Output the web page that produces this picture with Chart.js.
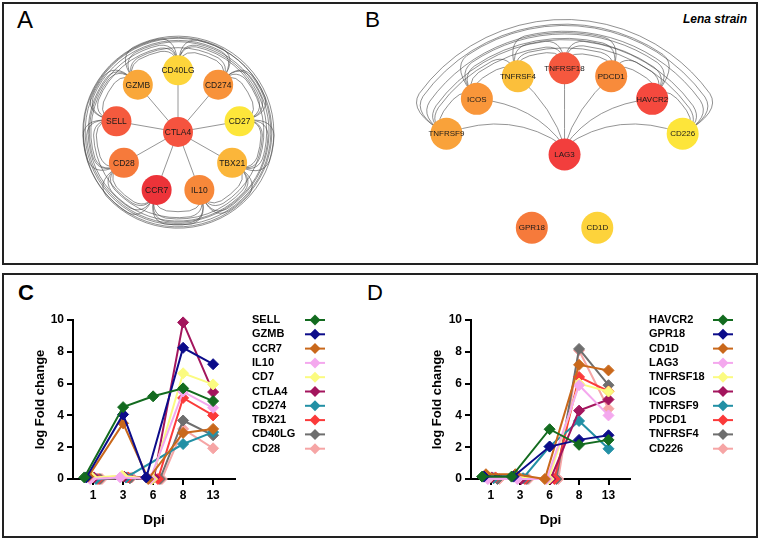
<!DOCTYPE html>
<html lang="en">
<head>
<meta charset="UTF-8" />
<title>Gene networks and fold change</title>
<script src="https://cdn.jsdelivr.net/npm/chart.js"></script>
<style>
  body { margin: 0; background: #fff; font-family: "Liberation Sans", Arial, sans-serif; overflow: hidden; }
  #fig { position: relative; width: 760px; height: 541px; }
  .box { position: absolute; border: 2px solid #222; box-sizing: border-box; }
  .lbl { position: absolute; color: #000; white-space: nowrap; }
  canvas { position: absolute; }
</style>
</head>
<body>
<div id="fig">
  <div class="box" style="left:2px;top:2px;width:756px;height:263px"></div>
  <div class="box" style="left:2px;top:273px;width:756px;height:265px"></div>

  <div class="lbl" style="left:17px;top:8px;font-size:24px;line-height:24px">A</div>
  <div class="lbl" style="left:365px;top:9px;font-size:22.5px;line-height:22.5px">B</div>
  <div class="lbl" style="right:13px;top:11px;font-size:12px;line-height:16px;font-weight:bold;font-style:italic">Lena strain</div>
  <div class="lbl" style="left:18px;top:282px;font-size:22px;line-height:22px;font-weight:bold">C</div>
  <div class="lbl" style="left:367px;top:282px;font-size:22px;line-height:22px">D</div>

  <canvas id="netA" width="280" height="252" style="left:38px;top:6px"></canvas>
  <canvas id="netB" width="370" height="257" style="left:380px;top:5px"></canvas>
  <canvas id="lineC" width="380" height="258" style="left:0px;top:276px"></canvas>
  <canvas id="lineD" width="378" height="258" style="left:380px;top:276px"></canvas>
</div>

<script>
  Chart.defaults.font.family = '"Liberation Sans", Arial, sans-serif';
  Chart.defaults.color = '#000';

  // ---- network A : CTLA4 hub, ring clockwise from top ----
  const hubA = 'CTLA4';
  const ringA = ['CD40LG', 'CD274', 'CD27', 'TBX21', 'IL10', 'CCR7', 'CD28', 'SELL', 'GZMB'];
  const ringStepA = 40;   // degrees between ring slots
  const ringStartA = 0;

  // ---- network B : ring arc + LAG3 hub + two unlinked genes ----
  const ringB = ['TNFRSF9', 'ICOS', 'TNFRSF4', 'TNFRSF18', 'PDCD1', 'HAVCR2', 'CD226'];
  const ringStepB = 20;
  const ringStartB = -60;
  const hubB = ['LAG3', 0, 0.34];            // name, layout x, layout y
  const loneB = [['GPR18', -0.24, -0.22], ['CD1D', 0.24, -0.22]];

  // node fill colours (heat)
  const nodeColor = {
    CTLA4: '#f5533f', CD40LG: '#fdd53b', CD274: '#f8923a', CD27: '#fde63a', TBX21: '#fbb63a',
    IL10: '#f7883a', CCR7: '#ec3339', CD28: '#f67a3b', SELL: '#f55a3e', GZMB: '#f9a73a',
    TNFRSF9: '#f9a23a', ICOS: '#f9963a', TNFRSF4: '#fbbf3b', TNFRSF18: '#f5583e', PDCD1: '#f88b3b',
    HAVCR2: '#f5493e', CD226: '#fde53a', LAG3: '#f23e3d', GPR18: '#f67a3b', CD1D: '#fdd33b'
  };

  // ---- line charts ----
  const dpi = ['1', '3', '6', '8', '13'];

  const genesC = ['SELL', 'GZMB', 'CCR7', 'IL10', 'CD7', 'CTLA4', 'CD274', 'TBX21', 'CD40LG', 'CD28'];
  const SELL   = [0.1, 4.52, 5.2, 5.7, 4.9];
  const GZMB   = [0.1, 4.06, 0.1, 8.25, 7.22];
  const CCR7   = [0.15, 3.5, 0, 2.9, 3.15];
  const IL10   = [0, 0.1, 0, 5.5, 4.48];
  const CD7    = [0.1, 0.2, 0, 6.65, 5.95];
  const CTLA4  = [0.1, 0.15, 0.1, 9.85, 5.47];
  const CD274  = [0, 0.1, null, 2.2, 2.95];
  const TBX21  = [0, 0.1, 0, 5.1, 4.0];
  const CD40LG = [0, 0.05, 0, 3.68, 2.75];
  const CD28   = [0, 0.1, 0, 3.15, 1.93];
  const valuesC = [SELL, GZMB, CCR7, IL10, CD7, CTLA4, CD274, TBX21, CD40LG, CD28];

  const genesD = ['HAVCR2', 'GPR18', 'CD1D', 'LAG3', 'TNFRSF18', 'ICOS', 'TNFRSF9', 'PDCD1', 'TNFRSF4', 'CD226'];
  const HAVCR2   = [0.15, 0.15, 3.13, 2.15, 2.46];
  const GPR18    = [0.15, 0.15, 2.04, 2.46, 2.75];
  const CD1D     = [0.3, 0.3, 0, 7.18, 6.83];
  const LAG3     = [0, 0, 0, 5.9, 4.0];
  const TNFRSF18 = [0.1, 0.1, 0, 6.0, 5.5];
  const ICOS     = [0.1, 0, 0, 4.3, 5.0];
  const TNFRSF9  = [0.05, 0.05, 2.04, 3.65, 1.9];
  const PDCD1    = [0.1, 0, 0, 6.42, 5.52];
  const TNFRSF4  = [0, 0, 0, 8.18, 5.9];
  const CD226    = [0, 0, 0, 8.08, 4.42];
  const valuesD = [HAVCR2, GPR18, CD1D, LAG3, TNFRSF18, ICOS, TNFRSF9, PDCD1, TNFRSF4, CD226];

  const palette = ['#136b1f', '#0c0c8a', '#c9681b', '#f4a8ee', '#fbfb80',
                   '#a3155d', '#2290a5', '#fb3a3a', '#6e6e6e', '#f6a5a5'];

  // ================= network helpers =================
  function ringPos(k, start, step) {
    const t = (start + k * step) * Math.PI / 180;
    return { x: Math.sin(t), y: Math.cos(t) };
  }

  // arcs joining every pair of ring nodes, routed outside the ring
  function drawRingArcs(ctx, pts, cx, cy, stepDeg, base, inc, deltaDeg) {
    const stepRad = stepDeg * Math.PI / 180;
    const ang = pts.map(p => Math.atan2(p.y - cy, p.x - cx));
    const rad = pts.map(p => Math.hypot(p.x - cx, p.y - cy));
    const P = (r, a) => [cx + r * Math.cos(a), cy + r * Math.sin(a)];
    for (let i = 0; i < pts.length; i++) {
      for (let j = i + 1; j < pts.length; j++) {
        let d = ang[j] - ang[i];
        while (d > Math.PI) d -= 2 * Math.PI;
        while (d < -Math.PI) d += 2 * Math.PI;
        const a1 = ang[i], a2 = ang[i] + d, dir = Math.sign(d);
        const slots = Math.round(Math.abs(d) / stepRad);
        const r = (rad[i] + rad[j]) / 2;
        const R = r * (base + inc * slots) + ((i + j) % 3) * 1.3;
        const dl = Math.min(deltaDeg * Math.PI / 180, Math.abs(d) / 2.6);
        const s1 = a1 + dir * dl, s2 = a2 - dir * dl;
        const c1 = P(R, a1), c2 = P(R, a2), e1 = P(R, s1);
        ctx.beginPath();
        ctx.moveTo(pts[i].x, pts[i].y);
        ctx.quadraticCurveTo(c1[0], c1[1], e1[0], e1[1]);
        ctx.arc(cx, cy, R, s1, s2, dir < 0);
        ctx.quadraticCurveTo(c2[0], c2[1], pts[j].x, pts[j].y);
        ctx.stroke();
      }
    }
  }

  const nodeLabels = {
    id: 'nodeLabels',
    afterDatasetsDraw(chart, args, opts) {
      const ctx = chart.ctx;
      const meta = chart.getDatasetMeta(0);
      ctx.save();
      ctx.font = opts.size + 'px "Liberation Sans", Arial, sans-serif';
      ctx.fillStyle = '#1a1a1a';
      ctx.textAlign = 'center';
      ctx.textBaseline = 'middle';
      chart.data.labels.forEach((name, i) => {
        const el = meta.data[i];
        ctx.fillText(name, el.x, el.y + 0.5);
      });
      ctx.restore();
    }
  };

  function netOptions(xmin, xmax, ymin, ymax, labelSize) {
    return {
      responsive: false,
      animation: false,
      layout: { padding: 0 },
      events: [],
      scales: {
        x: { type: 'linear', display: false, min: xmin, max: xmax },
        y: { type: 'linear', display: false, min: ymin, max: ymax }
      },
      plugins: { legend: { display: false }, tooltip: { enabled: false }, nodeLabels: { size: labelSize } }
    };
  }

  // ================= network A =================
  const namesA = [hubA].concat(ringA);
  const ptsA = [{ x: 0, y: 0 }].concat(ringA.map((g, k) => ringPos(k, ringStartA, ringStepA)));

  const edgesA = {
    id: 'edgesA',
    beforeDatasetsDraw(chart) {
      const ctx = chart.ctx;
      const px = chart.getDatasetMeta(0).data.map(e => ({ x: e.x, y: e.y }));
      const hub = px[0], ring = px.slice(1);
      ctx.save();
      ctx.strokeStyle = 'rgba(70,70,70,0.85)';
      ctx.lineWidth = 0.7;
      drawRingArcs(ctx, ring, hub.x, hub.y, ringStepA, 1.22, 0.07, 12);
      ctx.strokeStyle = '#8a8a8a';
      ctx.lineWidth = 0.9;
      ring.forEach(p => {
        ctx.beginPath(); ctx.moveTo(hub.x, hub.y); ctx.lineTo(p.x, p.y); ctx.stroke();
      });
      ctx.restore();
    }
  };

  new Chart(document.getElementById('netA'), {
    type: 'scatter',
    data: {
      labels: namesA,
      datasets: [{
        data: ptsA,
        pointRadius: 15,
        pointBorderWidth: 0,
        pointBackgroundColor: namesA.map(n => nodeColor[n])
      }]
    },
    options: netOptions(-2, 2, -1.8, 1.8, 8.5),
    plugins: [edgesA, nodeLabels]
  });

  // ================= network B =================
  const namesB = ringB.concat([hubB[0]], loneB.map(n => n[0]));
  const ptsB = ringB.map((g, k) => ringPos(k, ringStartB, ringStepB))
    .concat([{ x: hubB[1], y: hubB[2] }], loneB.map(n => ({ x: n[1], y: n[2] })));

  const edgesB = {
    id: 'edgesB',
    beforeDatasetsDraw(chart) {
      const ctx = chart.ctx;
      const px = chart.getDatasetMeta(0).data.map(e => ({ x: e.x, y: e.y }));
      const ring = px.slice(0, ringB.length), hub = px[ringB.length];
      const cx = chart.scales.x.getPixelForValue(0), cy = chart.scales.y.getPixelForValue(0);
      ctx.save();
      ctx.strokeStyle = 'rgba(70,70,70,0.85)';
      ctx.lineWidth = 0.7;
      drawRingArcs(ctx, ring, cx, cy, ringStepB, 1.06, 0.045, 7);
      ctx.strokeStyle = '#7a7a7a';
      ctx.lineWidth = 0.8;
      ring.forEach(p => {
        const mx = (p.x + hub.x) / 2, my = (p.y + hub.y) / 2;
        const dx = hub.x - p.x, dy = hub.y - p.y, len = Math.hypot(dx, dy);
        let nx = dy / len, ny = -dx / len;
        if (ny > 0) { nx = -nx; ny = -ny; }
        const off = 0.3 * Math.abs(dx);
        ctx.beginPath();
        ctx.moveTo(hub.x, hub.y - 8);
        ctx.quadraticCurveTo(mx + nx * off, my + ny * off, p.x, p.y);
        ctx.stroke();
      });
      ctx.restore();
    }
  };

  const rB = 149.3, cxB = 184.5, cyB = 203.3;
  new Chart(document.getElementById('netB'), {
    type: 'scatter',
    data: {
      labels: namesB,
      datasets: [{
        data: ptsB,
        pointRadius: 16,
        pointBorderWidth: 0,
        pointBackgroundColor: namesB.map(n => nodeColor[n])
      }]
    },
    options: netOptions(-cxB / rB, (370 - cxB) / rB, -(257 - cyB) / rB, cyB / rB, 8),
    plugins: [edgesB, nodeLabels]
  });

  // ================= line charts =================
  const sideLegend = {
    id: 'sideLegend',
    afterDraw(chart, args, opts) {
      const ctx = chart.ctx;
      ctx.save();
      ctx.font = 'bold 11px "Liberation Sans", Arial, sans-serif';
      ctx.textBaseline = 'middle';
      chart.data.datasets.forEach((ds, i) => {
        const y = opts.top + i * opts.step;
        ctx.fillStyle = '#000';
        ctx.fillText(ds.label, opts.textX, y);
        ctx.strokeStyle = ds.borderColor;
        ctx.lineWidth = 2;
        ctx.beginPath(); ctx.moveTo(opts.markX0, y); ctx.lineTo(opts.markX1, y); ctx.stroke();
        const mx = (opts.markX0 + opts.markX1) / 2, r = 5.5;
        ctx.fillStyle = ds.borderColor;
        ctx.beginPath();
        ctx.moveTo(mx, y - r); ctx.lineTo(mx + r, y); ctx.lineTo(mx, y + r); ctx.lineTo(mx - r, y);
        ctx.closePath(); ctx.fill();
      });
      ctx.restore();
    }
  };

  function buildDatasets(genes, values) {
    const n = genes.length;
    return genes.map((g, i) => ({
      label: g,
      data: values[i].map((v, k) => ({
        x: k + (v !== null && v < 0.5 ? (i - (n - 1) / 2) * 0.065 : 0),
        y: v
      })),
      borderColor: palette[i],
      backgroundColor: palette[i],
      pointBackgroundColor: palette[i],
      pointBorderColor: palette[i],
      borderWidth: 2,
      pointStyle: 'rectRot',
      pointRadius: 5.5,
      pointBorderWidth: 1,
      tension: 0,
      spanGaps: true,
      clip: false
    }));
  }

  function lineOptions(axisWidth, padRight, titleOffset, legendPos) {
    return {
      responsive: false,
      animation: false,
      events: [],
      layout: { padding: { left: 0, top: 44, right: padRight, bottom: 0 } },
      scales: {
        x: {
          type: 'linear', min: -0.67, max: 4.73,
          afterBuildTicks: s => { s.ticks = dpi.map((d, i) => ({ value: i })); },
          afterFit: s => { s.height = 55; },
          ticks: {
            callback: v => dpi[v],
            autoSkip: false, maxRotation: 0, padding: 3,
            font: { size: 12, weight: 'bold' }, color: '#000'
          },
          grid: { drawOnChartArea: false, drawTicks: true, tickLength: 6, color: '#000', lineWidth: 2 },
          border: { display: true, color: '#000', width: 2 },
          title: { display: true, text: 'Dpi', font: { size: 13.5, weight: 'bold' }, color: '#000', padding: { top: 0, bottom: 6 } }
        },
        y: {
          type: 'linear', min: 0, max: 10,
          afterFit: s => { s.width = axisWidth; },
          ticks: { stepSize: 2, padding: 3, font: { size: 12, weight: 'bold' }, color: '#000' },
          grid: { drawOnChartArea: false, drawTicks: true, tickLength: 6, color: '#000', lineWidth: 2 },
          border: { display: true, color: '#000', width: 2 },
          title: { display: true, text: 'log Fold change', font: { size: 13, weight: 'bold' }, color: '#000', padding: { top: titleOffset, bottom: 0 } }
        }
      },
      plugins: { legend: { display: false }, tooltip: { enabled: false }, sideLegend: legendPos }
    };
  }

  new Chart(document.getElementById('lineC'), {
    type: 'line',
    data: { datasets: buildDatasets(genesC, valuesC) },
    options: lineOptions(73, 145, 33, { top: 44, step: 14.3, textX: 252, markX0: 305, markX1: 325 }),
    plugins: [sideLegend]
  });

  new Chart(document.getElementById('lineD'), {
    type: 'line',
    data: { datasets: buildDatasets(genesD, valuesD) },
    options: lineOptions(91, 128, 50, { top: 44, step: 14.3, textX: 269, markX0: 333, markX1: 353 }),
    plugins: [sideLegend]
  });
</script>
</body>
</html>
